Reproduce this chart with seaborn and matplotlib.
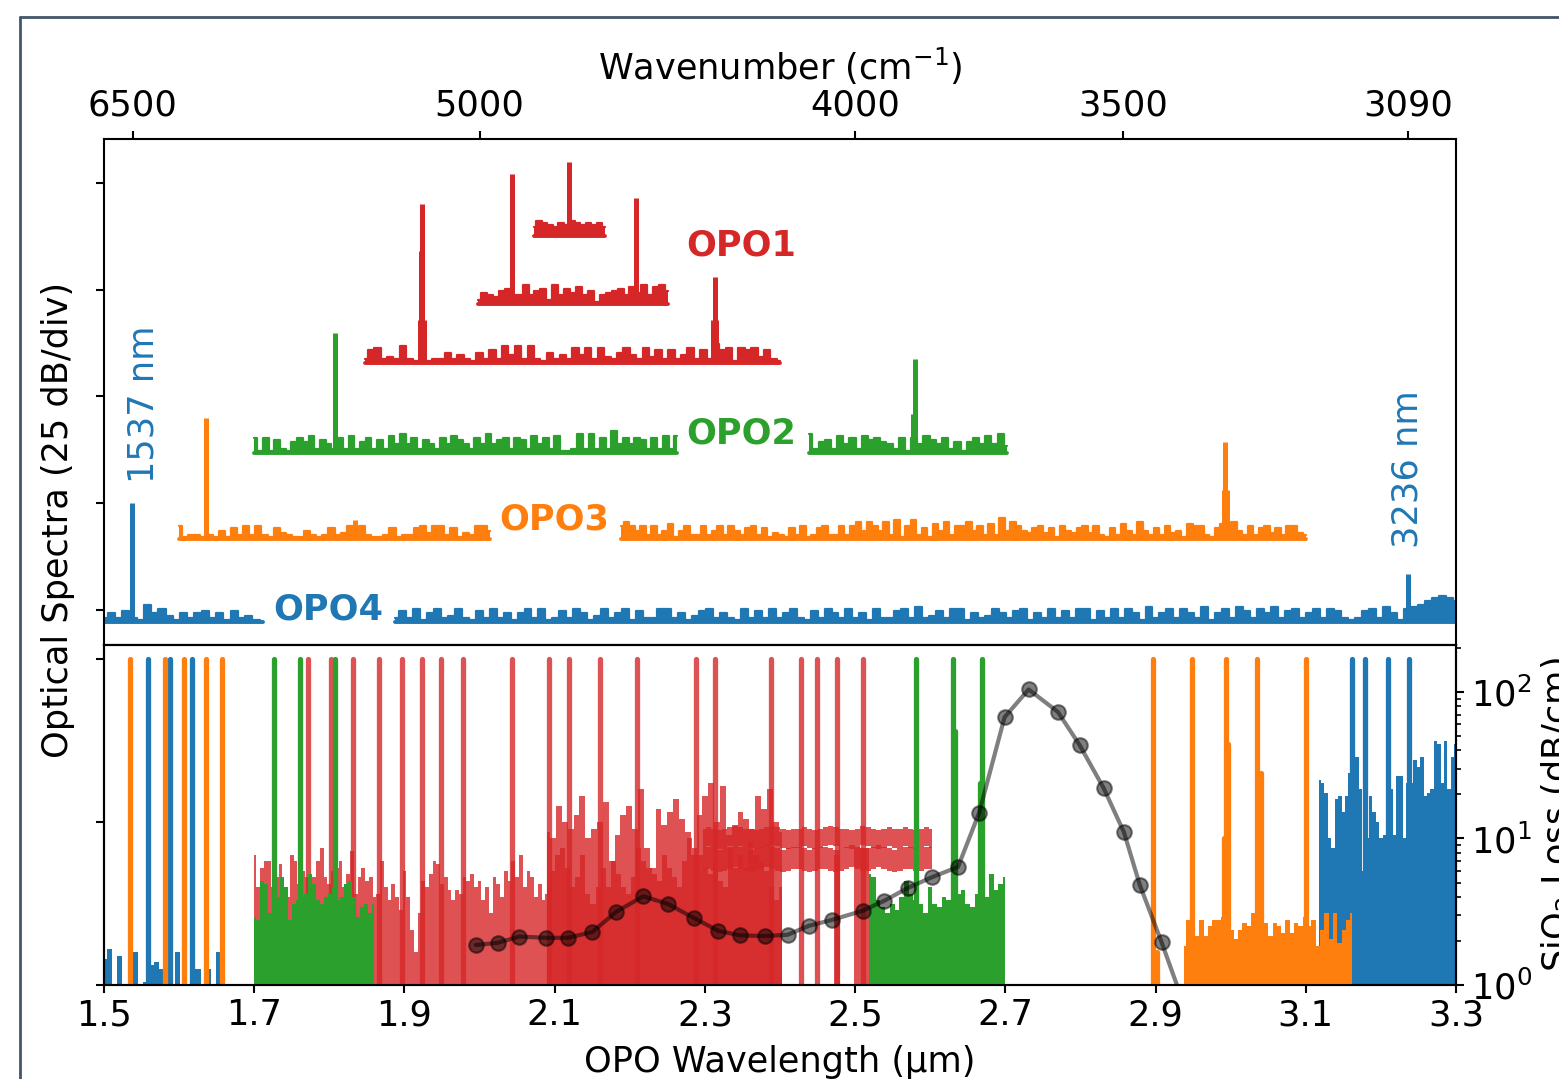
import numpy as np
import matplotlib
matplotlib.use("Agg")
import matplotlib.pyplot as plt
from matplotlib.lines import Line2D
import seaborn as sns

# -------------------------------
# Colours
# -------------------------------

BLUE = "#1f77b4"
ORANGE = "#ff7f0e"
GREEN = "#2ca02c"
RED = "#d62728"
FRAME = "#44546a"
FONT = 25.3

# -------------------------------
# Axis values
# -------------------------------

wavelength_ticks = [1.5, 1.7, 1.9, 2.1, 2.3, 2.5, 2.7, 2.9, 3.1, 3.3]
wavenumber_ticks = [6500, 5000, 4000, 3500, 3090]
spectra_ticks = [0, 25, 50, 75, 100]
comb_ticks = [0, 50, 100]

# -------------------------------
# SiO2 loss curve
# -------------------------------

loss_wl = [1.995, 2.024, 2.053, 2.089, 2.118, 2.150, 2.182, 2.218, 2.251, 2.285, 2.318,
           2.347, 2.380, 2.410, 2.438, 2.469, 2.510, 2.539, 2.570, 2.603, 2.637, 2.665,
           2.699, 2.731, 2.770, 2.799, 2.831, 2.858, 2.879, 2.908, 2.938]
loss_db = [1.875, 1.94, 2.14, 2.10, 2.10, 2.30, 3.16, 4.03, 3.57, 2.87, 2.34,
           2.18, 2.16, 2.20, 2.53, 2.78, 3.21, 3.76, 4.59, 5.46, 6.39, 14.9,
           67.2, 104, 73, 43.3, 22, 11.0, 4.82, 1.96, 0.73]

# -------------------------------
# Upper panel: noise floors (dB above each floor)
# -------------------------------

opo4_short = [1, 2, 1, 2.5, 1, 0.5, 4, 2, 3, 1.5, 0.5, 2, 1, 2, 2.5, 1, 2, 0.5, 2.5, 1, 1.5, 0.5, 0]
opo4_long = [1, 2.5, 1, 3, 0.5, 2, 3, 1, 1.5, 3, 1, 0.5, 2.5, 1, 3, 1, 2, 0.5, 2, 3, 1, 3, 0.5, 1,
             2.5, 1, 3, 2, 0.5, 1.5, 3, 1, 2, 3, 0.5, 2.5, 1, 1, 3, 3, 1, 2, 0.5, 1.5, 2.5, 3, 1, 2,
             1, 0.5, 3, 1, 2.5, 1, 3, 1, 2, 3, 1, 0.5, 2.5, 1, 3, 2, 1, 3, 1, 2, 0.5, 3, 1, 1,
             2.5, 3, 1, 3.5, 1, 1.5, 2.5, 1, 3, 3, 0.5, 2, 1, 1.5, 3, 2, 1, 2.5, 3, 0.5, 2, 1, 3, 1,
             2.5, 1, 3, 3, 0.5, 2.5, 1, 3, 1, 3, 2, 0.5, 3.5, 1, 2, 3, 1, 3, 2, 1, 3.5, 0.5, 2, 3,
             1, 3.5, 2.5, 1, 3, 2, 3.5, 1, 2.5, 3, 1, 2, 3, 1, 3, 2.5, 1, 0.5, 1, 2.5, 3, 1, 3.5, 2,
             0.5, 3, 3.5, 4, 5, 5.5, 6, 5.5, 5]
opo3_short = [3, 0.5, 1, 1, 0.5, 1, 0.5, 2, 0.5, 2.5, 1, 3, 1, 3, 1, 0.5, 2.5, 1.5, 1, 0.5, 0.5, 2,
              1, 0.5, 1, 2.5, 1, 1.5, 3, 1.5, 3, 1, 0.5, 0.5, 1, 2.5, 0.5, 1, 1, 2.5, 3, 1.5, 3, 3, 1, 2.5, 0.5, 1.5, 1, 3, 3, 2]
opo3_long = [3, 4, 3, 2, 3, 1, 3, 1, 2, 3.5, 0.5, 2, 3, 1, 1, 3, 1, 2, 3, 1, 3, 2, 1, 2.5, 3, 1,
             2.5, 0.5, 1.5, 1, 0.5, 2.5, 1, 3, 0.5, 1, 2.5, 3, 1, 1, 3, 1, 3, 4, 2, 4, 3, 2, 4, 1,
             4.5, 0.5, 3, 4.5, 1, 2.5, 0.5, 3.5, 2, 4, 1, 3, 3, 4, 2, 3, 1, 3.5, 1, 5, 2, 4, 3, 2,
             1.5, 2.5, 3, 1.5, 2.5, 0.5, 3, 2, 1.5, 2.5, 3, 1.5, 3, 1, 0.5, 2.5, 1, 3.5, 2, 1, 4, 2, 1, 2.5,
             1, 3, 1.5, 2, 0.5, 3.5, 3, 3, 1, 0.5, 2.5, 3.5, 1, 4, 2, 1, 3, 1, 2.5, 3, 1.5, 2.5, 1, 3, 3, 1.5, 1]
opo2_short = [3.5, 0.5, 3.5, 0.5, 3, 1, 0.5, 2.5, 3.5, 2.5, 4, 1, 3, 2, 1, 3.5, 1, 4, 1, 2.5, 3.5, 1, 3, 1, 4,
              2, 4.5, 2, 3.5, 1, 3, 2, 1, 3.5, 2, 4, 3, 2, 1, 3.5, 2, 4.5, 2, 3, 3.5, 1, 3.5, 3, 1, 4, 2,
              3.5, 1, 4, 0.5, 0.5, 1, 4.5, 1, 4.5, 1, 3.5, 1, 5, 2, 3.5, 2, 3.5, 3, 1, 3.5, 1, 4, 1, 4]
opo2_long = [4.5, 1, 2.5, 3, 1, 4, 2, 3.5, 1, 4, 3, 3.5, 2.5, 2, 1, 3.5, 0.5, 3.5, 2, 4, 3, 2, 3.5, 1, 2.5, 0.5,
             2.5, 3.5, 2, 4, 2, 4.5, 1.5]
opo1_long = [1, 3, 3.5, 1, 1.5, 1, 4, 1, 0.5, 0.5, 0.5, 1, 1, 2.5, 1, 2, 1, 0.5, 2.5, 1, 3, 1, 4, 2, 4,
             1, 4, 1, 0.5, 2.5, 1, 2, 1, 3.5, 2, 3.5, 1, 3.5, 1.5, 1, 2.5, 3.5, 2, 1, 3.5, 1.5, 3, 1, 3, 1,
             2, 3.5, 1, 3, 1, 4.5, 3, 3.5, 0.5, 3.5, 3, 3.5, 1.5, 3, 1, 0.5]
opo1_mid = [1, 2.5, 2, 1.5, 3, 3.5, 2, 2, 4.5, 2, 3, 3.5, 1, 4.5, 2, 3.5, 2.5, 4, 2, 3, 0.5, 2, 2.5, 3, 3.5, 2, 4, 2.5, 4.5, 2, 4, 4.5, 3]
opo1_short = [2, 3.5, 3, 2.5, 2, 3, 2.5, 3.5, 3, 2.5, 3, 2.5, 3, 2]

# (first wavelength, last wavelength, floor in dB, noise)
opo4_segments = [(1.5, 1.712, -2.8, opo4_short), (1.888, 3.3, -2.8, opo4_long)]
opo3_segments = [(1.6, 2.014, 16.6, opo3_short), (2.188, 3.1, 16.6, opo3_long)]
opo2_segments = [(1.7, 2.263, 36.8, opo2_short), (2.439, 2.702, 36.8, opo2_long)]
opo1_segments = [(1.847, 2.4, 57.8, opo1_long), (1.998, 2.251, 71.7, opo1_mid), (2.072, 2.167, 87.6, opo1_short)]

# (wavelength, floor in dB, peak top in dB)
opo4_lines = [(1.537, -2.8, 25), (3.236, -2.8, 8.4)]
opo3_lines = [(1.636, 16.6, 45), (1.834, 16.6, 21), (2.993, 16.6, 39.3), (2.991, 16.6, 28), (2.995, 16.6, 28)]
opo2_lines = [(1.807, 36.8, 64.9), (2.58, 36.8, 58.8), (2.577, 36.8, 46)]
opo1_lines = [(1.923, 57.8, 95.1), (1.922, 57.8, 84), (1.924, 57.8, 84), (1.9205, 57.8, 68), (1.9255, 57.8, 68),
              (2.313, 57.8, 78), (2.311, 57.8, 68), (2.315, 57.8, 68),
              (2.043, 71.7, 102.1), (2.208, 71.7, 96.5), (2.119, 87.6, 105)]

# -------------------------------
# Lower panel: comb envelopes
# -------------------------------

blue_left = [8, 11, 0, 9, 0, 0, 10, 0, 1, 6, 7, 5, 0, 0, 10, 0, 0, 5, 5, 0, 5, 0, 10, 8]
blue_right = [63, 62, 59, 45, 42, 57, 58, 53, 58, 65, 46, 70, 60, 35, 45, 58, 53, 50, 45, 46, 62, 60, 46, 64,
              64, 45, 62, 62, 69, 67, 70, 58, 59, 60, 75, 74, 62, 75, 60, 70, 74]
orange_right = [12, 20, 19, 15, 20, 15, 18, 20, 20, 21, 18, 17, 14, 17, 19, 18, 22, 16, 14, 19, 15, 19, 18, 16,
                20, 16, 19, 18, 21, 18, 20, 12, 17, 22, 14, 22, 13, 17, 20, 22]
green_left = [21, 20, 32, 31, 22, 25, 27, 33, 30, 20, 25, 26, 27, 28, 34, 31, 26, 25, 27, 28, 30, 26, 27, 31, 32, 27, 21, 24, 25, 22, 25]
green_right = [34, 33, 26, 24, 22, 25, 23, 27, 32, 28, 26, 25, 22, 30, 25, 24, 27, 26, 23, 28, 29, 25, 24, 28, 26, 27, 34, 29, 31, 33]
red_wide_left = [40, 30, 36, 38, 38, 30, 33, 37, 25, 27, 40, 38, 31, 35, 33, 29, 33, 38, 42, 33, 31, 35, 36, 38, 30, 34, 41, 28, 33, 36,
                 32, 33, 27, 28, 38, 30, 26, 31, 27, 23, 35, 27, 17, 10, 22, 32, 30, 34, 38, 37, 31, 33, 29, 26, 29, 28,
                 33, 32, 34, 30, 32, 26, 30, 22, 33, 31, 27, 35, 32, 38, 33, 40, 30, 35, 33, 27, 31, 26, 28]
red_wide_right = [47, 45, 55, 50, 48, 52, 58, 45, 48, 50, 56, 38, 46, 52, 55, 48, 60, 42, 36, 54, 49, 53, 57, 51, 47, 40,
                  52, 58, 62, 50, 61, 46, 49, 53, 51, 48, 58, 54, 60, 50, 47]
red_inner = [30, 35, 40, 42, 36, 30, 33, 40, 28, 25, 30, 36, 30, 38, 34, 30, 28, 33, 42, 38, 36, 34, 32, 40,
             36, 33, 30, 38, 45, 42, 40, 36, 34, 38, 32, 30, 42, 36, 40, 36, 44, 40, 38, 35, 30, 26, 30]
red_band_high = [45, 45.5, 45, 44.5, 45, 45.5, 46, 45.5, 45, 45, 44.5, 45, 45.5, 46, 45.5, 45, 44.5, 45, 45, 45.5, 45, 44.5,
                 45, 45.5, 46, 45.5, 45, 45, 44.5, 45, 46, 45.5, 45, 44.5, 45, 45.5, 45, 45, 45.5, 45, 44.5, 45, 45.5, 45]
red_band_low = [38.5, 39, 38.5, 38, 38.5, 39, 39.5, 39, 38.5, 38, 38.5, 39, 39.5, 39, 38.5, 38, 38.5, 39, 39, 38.5, 38, 38.5,
                39, 39, 38.5, 38, 38.5, 39, 39.5, 39, 38.5, 38.5, 39, 39.5, 39, 38.5, 38, 38.5, 39, 39, 38.5, 38.5, 39, 39]

# (first wavelength, last wavelength, top of the block)
red_stripes = [(2.472, 2.48, 40), (2.498, 2.518, 42)]

blue_peaks = [1.558, 1.588, 1.617, 3.161, 3.179, 3.209, 3.237]
orange_peaks = [1.535, 1.581, 1.606, 1.636, 1.6575, 2.897, 2.949, 2.994, 3.035, 3.1]
green_peaks = [1.726, 1.761, 1.808, 2.581, 2.63, 2.669]
red_peaks = [1.772, 1.802, 1.832, 1.866, 1.897, 1.924, 1.949, 1.978, 2.043, 2.093, 2.119, 2.161,
             2.209, 2.288, 2.313, 2.388, 2.428, 2.449, 2.476, 2.51]

# (wavelength, top of the shoulder beside a peak)
orange_shoulders = [(2.9915, 45), (2.997, 74), (3.041, 65), (2.902, 10)]
green_shoulders = [(2.633, 78), (2.666, 62)]

# -------------------------------
# Figure
# -------------------------------

sns.set_style("ticks")
plt.rcParams["font.family"] = "DejaVu Sans"
plt.rcParams["font.size"] = FONT
plt.rcParams["axes.linewidth"] = 1.5
plt.rcParams["xtick.major.width"] = 1.5
plt.rcParams["ytick.major.width"] = 1.5
plt.rcParams["ytick.minor.width"] = 1.2
plt.rcParams["xtick.major.size"] = 6
plt.rcParams["ytick.major.size"] = 6
plt.rcParams["ytick.minor.size"] = 3.5
plt.rcParams["xtick.color"] = "black"
plt.rcParams["ytick.color"] = "black"
plt.rcParams["axes.edgecolor"] = "black"
plt.rcParams["axes.labelcolor"] = "black"
plt.rcParams["text.color"] = "black"

W, H = 1559, 1079
fig = plt.figure(figsize=(W / 100, H / 100), dpi=100)

fig.add_artist(Line2D([20 / W, 20 / W], [0, 1 - 17 / H], color=FRAME, lw=2))
fig.add_artist(Line2D([20 / W, 1], [1 - 17 / H, 1 - 17 / H], color=FRAME, lw=2))

ax_top = fig.add_axes([104 / W, 1 - 645 / H, 1352 / W, 506 / H])
ax_low = fig.add_axes([104 / W, 1 - 985 / H, 1352 / W, 340 / H])
ax_loss = ax_low.twinx()


def draw_spectrum(ax, segments, lines, color):
    for start, stop, floor, noise in segments:
        wl = np.linspace(start, stop, len(noise))
        level = floor + np.array(noise)
        ax.fill_between(wl, floor, level, step="mid", color=color, lw=0)
        sns.lineplot(x=wl, y=level, color=color, lw=1.6, drawstyle="steps-mid", estimator=None, sort=False, ax=ax)
        sns.lineplot(x=[start, stop], y=[floor, floor], color=color, lw=2.8, estimator=None, sort=False, ax=ax)
    for wl, floor, top in lines:
        sns.lineplot(x=[wl, wl], y=[floor, top], color=color, lw=3.6, estimator=None, sort=False,
                     solid_capstyle="butt", ax=ax)


def draw_block(ax, start, stop, values, color, alpha=1.0, zorder=2):
    wl = np.linspace(start, stop, len(values))
    ax.fill_between(wl, 0, values, step="mid", color=color, alpha=alpha, lw=0, zorder=zorder)


def draw_peaks(ax, peaks, color, alpha=1.0, zorder=2):
    for wl in peaks:
        sns.lineplot(x=[wl, wl], y=[0, 100], color=color, alpha=alpha, lw=3.8, estimator=None, sort=False,
                     solid_capstyle="round", zorder=zorder, ax=ax)


def draw_shoulders(ax, shoulders, color, zorder=2):
    for wl, top in shoulders:
        sns.lineplot(x=[wl, wl], y=[0, top], color=color, lw=3.8, estimator=None, sort=False,
                     zorder=zorder, ax=ax)


# -------------------------------
# Upper panel
# -------------------------------

draw_spectrum(ax_top, opo4_segments, opo4_lines, BLUE)
draw_spectrum(ax_top, opo3_segments, opo3_lines, ORANGE)
draw_spectrum(ax_top, opo2_segments, opo2_lines, GREEN)
draw_spectrum(ax_top, opo1_segments, opo1_lines, RED)

ax_top.set_xlim(1.5, 3.3)
ax_top.set_ylim(-8.2, 110.3)
ax_top.set_yticks(spectra_ticks)
ax_top.set_yticklabels([])
ax_top.xaxis.tick_top()
ax_top.xaxis.set_label_position("top")
ax_top.set_xticks(1e4 / np.array(wavenumber_ticks))
ax_top.set_xticklabels([str(w) for w in wavenumber_ticks], fontsize=FONT)
ax_top.tick_params(axis="x", pad=6)
ax_top.set_xlabel("Wavenumber (cm$^{-1}$)", fontsize=FONT, labelpad=6)
ax_top.set_ylabel("")

ax_top.text(741 / W, 1 - 246 / H, "OPO1", color=RED, fontsize=FONT, fontweight="bold",
            ha="center", va="center", transform=fig.transFigure)
ax_top.text(741 / W, 1 - 433 / H, "OPO2", color=GREEN, fontsize=FONT, fontweight="bold",
            ha="center", va="center", transform=fig.transFigure)
ax_top.text(554 / W, 1 - 519 / H, "OPO3", color=ORANGE, fontsize=FONT, fontweight="bold",
            ha="center", va="center", transform=fig.transFigure)
ax_top.text(328 / W, 1 - 609 / H, "OPO4", color=BLUE, fontsize=FONT, fontweight="bold",
            ha="center", va="center", transform=fig.transFigure)
ax_top.text(143 / W, 1 - 404 / H, "1537 nm", color=BLUE, fontsize=FONT, rotation=90,
            ha="center", va="center", transform=fig.transFigure)
ax_top.text(1407 / W, 1 - 469 / H, "3236 nm", color=BLUE, fontsize=FONT, rotation=90,
            ha="center", va="center", transform=fig.transFigure)

# -------------------------------
# Lower panel
# -------------------------------

draw_block(ax_low, 1.5, 1.66, blue_left, BLUE, zorder=2)
draw_block(ax_low, 3.118, 3.3, blue_right, BLUE, zorder=2)
draw_peaks(ax_low, blue_peaks, BLUE, zorder=2)

draw_block(ax_low, 2.938, 3.162, orange_right, ORANGE, zorder=3)
draw_peaks(ax_low, orange_peaks, ORANGE, zorder=3)
draw_shoulders(ax_low, orange_shoulders, ORANGE, zorder=3)

draw_block(ax_low, 1.7, 2.09, red_wide_left, RED, alpha=0.8, zorder=4)
draw_block(ax_low, 2.09, 2.402, red_wide_right, RED, alpha=0.8, zorder=4)
draw_block(ax_low, 2.09, 2.402, red_inner, RED, alpha=0.8, zorder=4)
draw_peaks(ax_low, red_peaks, RED, alpha=0.8, zorder=4)
for start, stop, top in red_stripes:
    ax_low.fill_between([start, stop], 0, top, color=RED, alpha=0.8, lw=0, zorder=4)

band_wl = np.linspace(2.298, 2.602, len(red_band_high))
ax_low.fill_between(band_wl, np.array(red_band_high) - 2.9, np.array(red_band_high) + 2.9, step="mid",
                    color=RED, alpha=0.8, lw=0, zorder=4)
ax_low.fill_between(band_wl, np.array(red_band_low) - 3.4, np.array(red_band_low) + 3.4, step="mid",
                    color=RED, alpha=0.8, lw=0, zorder=4)

draw_block(ax_low, 1.7, 1.8595, green_left, GREEN, zorder=5)
draw_block(ax_low, 2.518, 2.7, green_right, GREEN, zorder=5)
draw_peaks(ax_low, green_peaks, GREEN, zorder=5)
draw_shoulders(ax_low, green_shoulders, GREEN, zorder=5)

ax_low.set_xlim(1.5, 3.3)
ax_low.set_ylim(0, 104.3)
ax_low.set_yticks(comb_ticks)
ax_low.set_yticklabels([])
ax_low.set_xticks(wavelength_ticks)
ax_low.set_xticklabels([f"{w:.1f}" for w in wavelength_ticks], fontsize=FONT)
ax_low.set_xlabel("OPO Wavelength (µm)", fontsize=FONT, labelpad=9)
ax_low.set_ylabel("")

# -------------------------------
# Loss curve on the right axis
# -------------------------------

ax_loss.set_yscale("log")
sns.lineplot(x=loss_wl, y=loss_db, color="black", alpha=0.5, lw=3, marker="o", markersize=10.5,
             markeredgecolor="black", markeredgewidth=1.5, estimator=None, sort=False, ax=ax_loss)
ax_loss.set_ylim(1, 209)
ax_loss.set_xlim(1.5, 3.3)
ax_loss.tick_params(axis="y", labelsize=FONT, pad=5)
ax_loss.set_ylabel("")

fig.text(58 / W, 1 - 520 / H, "Optical Spectra (25 dB/div)", fontsize=FONT, rotation=90, ha="center", va="center")
fig.text(1557 / W, 1 - 815 / H, "SiO$_2$ Loss (dB/cm)", fontsize=FONT, rotation=90, ha="center", va="center")

fig.savefig("out.png", dpi=100)
